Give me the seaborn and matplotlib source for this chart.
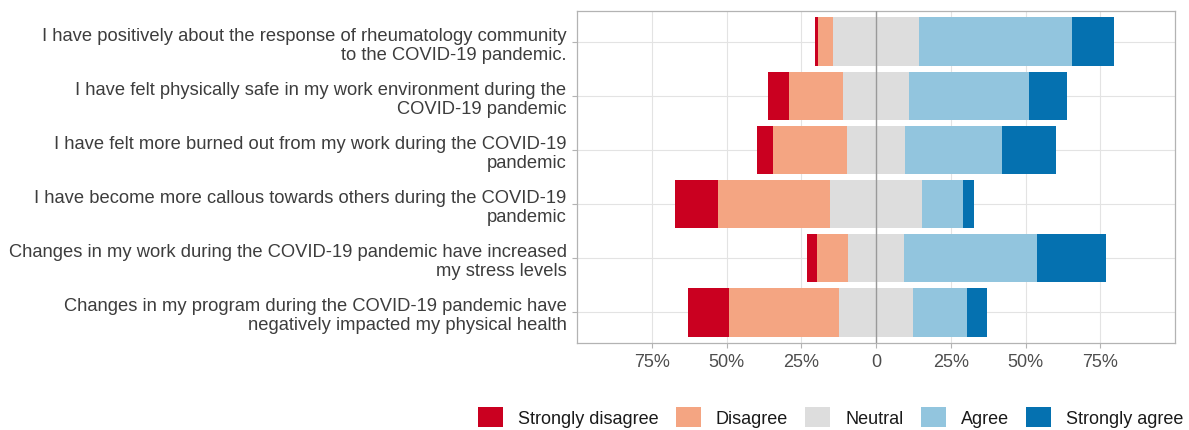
import numpy as np
import pandas as pd
import matplotlib
matplotlib.use("Agg")
import matplotlib.pyplot as plt
import seaborn as sns
from matplotlib.patches import Patch

questions = [
    "I have positively about the response of rheumatology community\nto the COVID-19 pandemic.",
    "I have felt physically safe in my work environment during the\nCOVID-19 pandemic",
    "I have felt more burned out from my work during the COVID-19\npandemic",
    "I have become more callous towards others during the COVID-19\npandemic",
    "Changes in my work during the COVID-19 pandemic have increased\nmy stress levels",
    "Changes in my program during the COVID-19 pandemic have\nnegatively impacted my physical health",
]
strongly_disagree = [1.0, 7.0, 5.4, 14.5, 3.2, 13.7]
disagree = [5.0, 18.2, 24.6, 37.3, 10.5, 36.9]
neutral = [29.0, 21.8, 19.7, 31.1, 18.5, 24.6]
agree = [51.0, 40.3, 32.3, 13.6, 44.6, 18.2]
strongly_agree = [14.0, 12.7, 18.0, 3.5, 23.2, 6.6]

levels = ["Strongly disagree", "Disagree", "Neutral", "Agree", "Strongly agree"]
colors = ["#ca0020", "#f4a582", "#dddddd", "#92c5de", "#0571b0"]
tick_vals = [-75, -50, -25, 0, 25, 50, 75]
tick_labels = ["75%", "50%", "25%", "0", "25%", "50%", "75%"]

df = pd.DataFrame({
    "q": questions,
    "sd": strongly_disagree, "d": disagree, "n": neutral,
    "a": agree, "sa": strongly_agree,
})
half = df["n"] / 2
df["r_sa"] = half + df["a"] + df["sa"]
df["r_a"] = half + df["a"]
df["r_n"] = half
df["l_sd"] = -(half + df["d"] + df["sd"])
df["l_d"] = -(half + df["d"])
df["l_n"] = -half

text_col = "#4d4d4d"
plt.rcParams["font.family"] = ["Liberation Sans", "DejaVu Sans"]

fig = plt.figure(figsize=(11.89, 4.31), dpi=100)
ax = fig.add_axes([577 / 1189, 1 - 344 / 431, (1175 - 577) / 1189, (344 - 12) / 431])

layers = [("r_sa", colors[4]), ("r_a", colors[3]), ("r_n", colors[2]),
          ("l_sd", colors[0]), ("l_d", colors[1]), ("l_n", colors[2])]
for col, c in layers:
    sns.barplot(data=df, x=col, y="q", orient="h", color=c, saturation=1,
                width=0.9, linewidth=0, edgecolor="none", ax=ax, errorbar=None,
                zorder=2)

ax.set_xlim(-100, 100)
ax.set_ylim(5.57, -0.57)
ax.set_xticks(tick_vals)
ax.set_xticklabels(tick_labels)
ax.set_xlabel("")
ax.set_ylabel("")
ax.grid(True, color="#e3e3e3", linewidth=0.8, zorder=0)
ax.set_axisbelow(True)
ax.axvline(0, color="#999999", linewidth=1.0, zorder=3)
for s in ax.spines.values():
    s.set_color("#b3b3b3")
    s.set_linewidth(0.9)
ax.tick_params(axis="both", colors="#b3b3b3", length=3.5, width=0.8,
               labelsize=13, labelcolor=text_col)
ax.tick_params(axis="y", labelsize=13.25, pad=4)
ax.tick_params(axis="x", pad=4)
for t in ax.get_yticklabels():
    t.set_color("#3d3d3d")
    t.set_linespacing(1.15)

handles = [Patch(facecolor=c, edgecolor="none", label=l) for l, c in zip(levels, colors)]
fig.legend(handles=handles, loc="center", bbox_to_anchor=(830.5 / 1189, 1 - 418 / 431),
           ncol=5, frameon=False, fontsize=13, handlelength=1.39, handleheight=1.39,
           handletextpad=0.83, columnspacing=0.95, labelcolor="#1a1a1a")

fig.savefig("out.png", dpi=100)
